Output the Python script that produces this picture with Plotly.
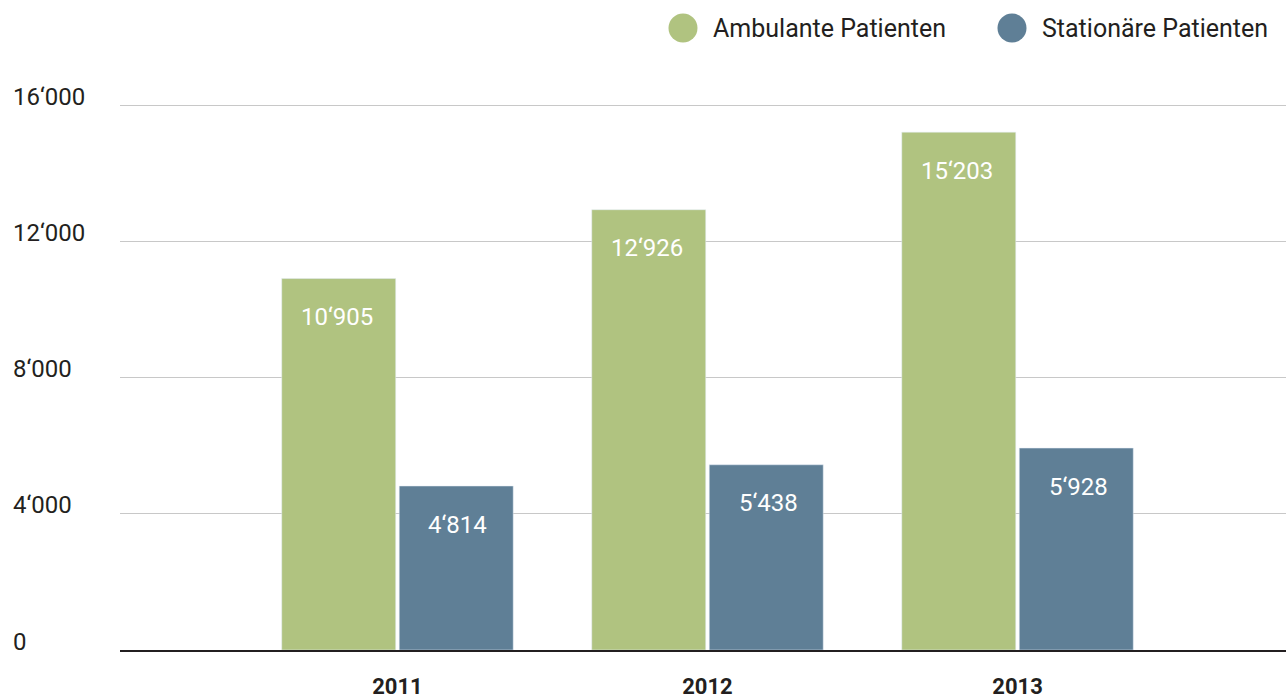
import plotly.graph_objects as go

years = ["2011", "2012", "2013"]
ambulant = [10905, 12926, 15203]
stationaer = [4814, 5438, 5928]
series_names = ["Ambulante Patienten", "Stationäre Patienten"]
y_ticks = [0, 4000, 8000, 12000, 16000]

GREEN = "#b0c380"
BLUE = "#5f7f96"
TEXT = "#231f20"
FONT = "Roboto"

def fmt(v):
    return f"{v:,}".replace(",", "\u2018")

W, H = 1286, 700
ML, MR, MT, MB = 120, 0, 100, 50
plot_w = W - ML - MR
plot_h = H - MT - MB
px_per_unit = 545 / 16000
ymax = plot_h / px_per_unit

def px_x(p):
    return (p - ML) / plot_w

def px_y(p):
    return (H - MB - p) / plot_h

fig = go.Figure()
fig.add_trace(go.Bar(x=years, y=ambulant, name=series_names[0], marker_color=GREEN,
                     showlegend=False, hoverinfo="skip"))
fig.add_trace(go.Bar(x=years, y=stationaer, name=series_names[1], marker_color=BLUE,
                     showlegend=False, hoverinfo="skip"))

annotations = []
for vals, sh in [(ambulant, -60.5), (stationaer, 60.5)]:
    for i, v in enumerate(vals):
        annotations.append(dict(x=i, y=v, xref="x", yref="y", text=fmt(v),
                                showarrow=False, xshift=sh, yshift=-38.5,
                                xanchor="center", yanchor="middle",
                                font=dict(family=FONT, size=24, color="white")))
for t in y_ticks:
    annotations.append(dict(x=px_x(11), y=t, xref="paper", yref="y",
                            text=fmt(t), showarrow=False, xanchor="left",
                            yanchor="middle", yshift=8.5,
                            font=dict(family=FONT, size=24, color=TEXT)))

# legend (circle swatches + labels)
shapes = []
legend_pos = [(683, 711), (1012, 1040)]
r = 14.5
for nm, col, (cx, tx) in zip(series_names, [GREEN, BLUE], legend_pos):
    shapes.append(dict(type="circle", xref="paper", yref="paper",
                       x0=px_x(cx - r), x1=px_x(cx + r),
                       y0=px_y(28 + r), y1=px_y(28 - r),
                       fillcolor=col, line=dict(width=0)))
    annotations.append(dict(x=px_x(tx), y=px_y(28), xref="paper", yref="paper",
                            text=nm, showarrow=False, xanchor="left", yanchor="middle",
                            font=dict(family=FONT, size=25, color=TEXT)))

fig.update_layout(
    width=W, height=H,
    margin=dict(l=ML, r=MR, t=MT, b=MB, autoexpand=False),
    paper_bgcolor="white", plot_bgcolor="white",
    barmode="group", bargap=0.242, bargroupgap=0.03,
    font=dict(family=FONT, color=TEXT),
    showlegend=False,
    annotations=annotations,
    shapes=shapes,
    xaxis=dict(type="category", range=[-0.895, 2.866], showgrid=False,
               showline=True, linecolor="#231f20", linewidth=2,
               ticks="", tickfont=dict(family=FONT, size=22, color=TEXT, weight="bold"),
               ticklabelstandoff=16, automargin=False, fixedrange=True),
    yaxis=dict(range=[0, ymax], tickvals=y_ticks, showticklabels=False,
               showgrid=True, gridcolor="#c8c8c8", gridwidth=1,
               zeroline=False, automargin=False, fixedrange=True),
)

fig.write_html("out.html", config={"displayModeBar": False},
               post_script="document.body.style.margin='0';document.body.style.overflow='hidden';")
